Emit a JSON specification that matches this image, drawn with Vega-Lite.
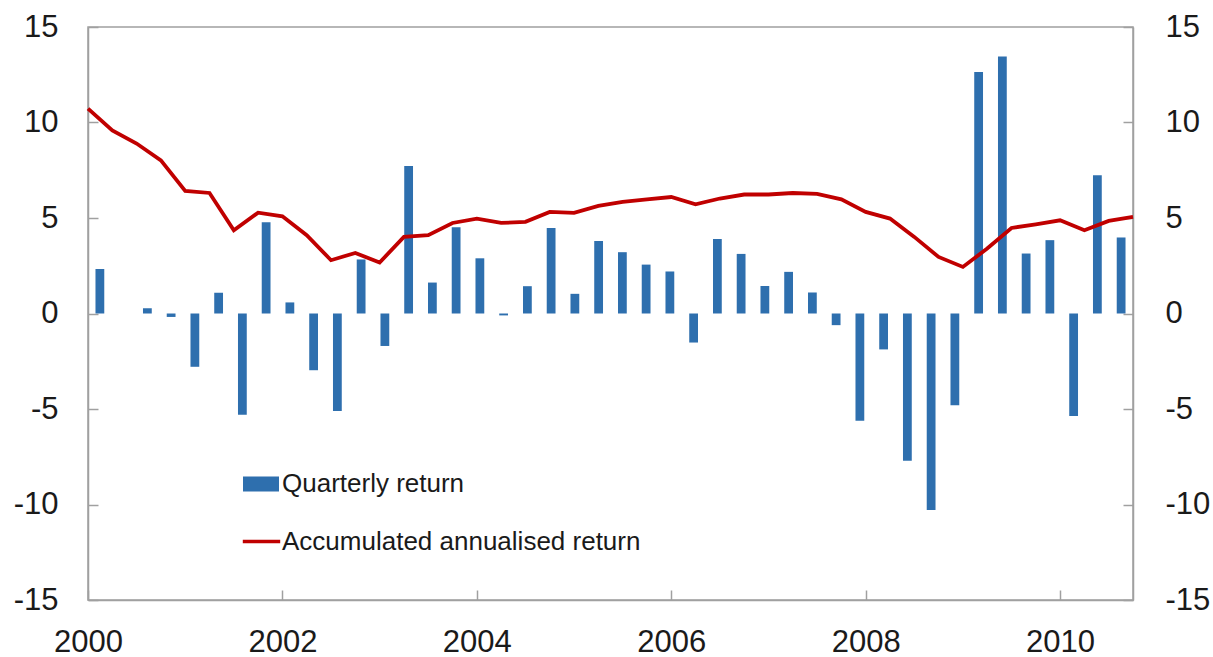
{
  "$schema": "https://vega.github.io/schema/vega-lite/v6.json",
  "width": 1045,
  "height": 573,
  "autosize": {"type": "none"},
  "padding": {"left": 88, "top": 27, "right": 80, "bottom": 57},
  "background": "white",
  "config": {
    "font": "Liberation Sans",
    "view": {"stroke": "#a0a0a0", "strokeWidth": 1.5},
    "axis": {
      "grid": false,
      "domainColor": "#a0a0a0",
      "domainWidth": 1.5,
      "tickColor": "#a0a0a0",
      "tickWidth": 1.5,
      "tickSize": -10,
      "labelFont": "Liberation Sans",
      "labelFontSize": 31,
      "labelColor": "#1a1a1a",
      "title": null
    },
    "legend": {
      "labelFont": "Liberation Sans",
      "labelFontSize": 26,
      "labelColor": "#1a1a1a",
      "labelLimit": 0,
      "padding": 0
    }
  },
  "datasets": {
    "bars": [
      {"q": "2000Q1", "r": 2.33}, {"q": "2000Q2", "r": 0.0}, {"q": "2000Q3", "r": 0.28}, {"q": "2000Q4", "r": -0.18},
      {"q": "2001Q1", "r": -2.79}, {"q": "2001Q2", "r": 1.08}, {"q": "2001Q3", "r": -5.3}, {"q": "2001Q4", "r": 4.78},
      {"q": "2002Q1", "r": 0.58}, {"q": "2002Q2", "r": -2.97}, {"q": "2002Q3", "r": -5.1}, {"q": "2002Q4", "r": 2.83},
      {"q": "2003Q1", "r": -1.7}, {"q": "2003Q2", "r": 7.72}, {"q": "2003Q3", "r": 1.62}, {"q": "2003Q4", "r": 4.52},
      {"q": "2004Q1", "r": 2.89}, {"q": "2004Q2", "r": -0.1}, {"q": "2004Q3", "r": 1.43}, {"q": "2004Q4", "r": 4.48},
      {"q": "2005Q1", "r": 1.03}, {"q": "2005Q2", "r": 3.8}, {"q": "2005Q3", "r": 3.21}, {"q": "2005Q4", "r": 2.56},
      {"q": "2006Q1", "r": 2.2}, {"q": "2006Q2", "r": -1.52}, {"q": "2006Q3", "r": 3.9}, {"q": "2006Q4", "r": 3.12},
      {"q": "2007Q1", "r": 1.44}, {"q": "2007Q2", "r": 2.18}, {"q": "2007Q3", "r": 1.1}, {"q": "2007Q4", "r": -0.61},
      {"q": "2008Q1", "r": -5.62}, {"q": "2008Q2", "r": -1.88}, {"q": "2008Q3", "r": -7.71}, {"q": "2008Q4", "r": -10.29},
      {"q": "2009Q1", "r": -4.81}, {"q": "2009Q2", "r": 12.64}, {"q": "2009Q3", "r": 13.46}, {"q": "2009Q4", "r": 3.14},
      {"q": "2010Q1", "r": 3.84}, {"q": "2010Q2", "r": -5.37}, {"q": "2010Q3", "r": 7.24}, {"q": "2010Q4", "r": 3.98}
    ],
    "line": [
      {"t": 2000.0, "v": 10.73}, {"t": 2000.25, "v": 9.59}, {"t": 2000.5, "v": 8.9}, {"t": 2000.75, "v": 8.02},
      {"t": 2001.0, "v": 6.42}, {"t": 2001.25, "v": 6.31}, {"t": 2001.5, "v": 4.36}, {"t": 2001.75, "v": 5.28},
      {"t": 2002.0, "v": 5.09}, {"t": 2002.25, "v": 4.1}, {"t": 2002.5, "v": 2.79}, {"t": 2002.75, "v": 3.17},
      {"t": 2003.0, "v": 2.67}, {"t": 2003.25, "v": 4.01}, {"t": 2003.5, "v": 4.1}, {"t": 2003.75, "v": 4.74},
      {"t": 2004.0, "v": 4.97}, {"t": 2004.25, "v": 4.74}, {"t": 2004.5, "v": 4.8}, {"t": 2004.75, "v": 5.32},
      {"t": 2005.0, "v": 5.27}, {"t": 2005.25, "v": 5.63}, {"t": 2005.5, "v": 5.84}, {"t": 2005.75, "v": 5.98},
      {"t": 2006.0, "v": 6.1}, {"t": 2006.25, "v": 5.72}, {"t": 2006.5, "v": 6.02}, {"t": 2006.75, "v": 6.23},
      {"t": 2007.0, "v": 6.23}, {"t": 2007.25, "v": 6.31}, {"t": 2007.5, "v": 6.26}, {"t": 2007.75, "v": 5.98},
      {"t": 2008.0, "v": 5.32}, {"t": 2008.25, "v": 4.97}, {"t": 2008.5, "v": 4.01}, {"t": 2008.75, "v": 2.96},
      {"t": 2009.0, "v": 2.44}, {"t": 2009.25, "v": 3.4}, {"t": 2009.5, "v": 4.48}, {"t": 2009.75, "v": 4.67},
      {"t": 2010.0, "v": 4.88}, {"t": 2010.25, "v": 4.36}, {"t": 2010.5, "v": 4.85}, {"t": 2010.75, "v": 5.06}
    ]
  },
  "layer": [
    {
      "data": {"name": "bars"},
      "mark": {"type": "bar"},
      "encoding": {
        "x": {
          "field": "q", "type": "ordinal", "sort": null, "axis": null,
          "scale": {"paddingInner": 0.63, "paddingOuter": 0.315}
        },
        "y": {
          "field": "r", "type": "quantitative",
          "scale": {"domain": [-15, 15], "nice": false, "zero": false},
          "axis": {
            "orient": "left", "values": [-15, -10, -5, 0, 5, 10, 15], "labelPadding": 40,
            "labelExpr": "datum.value < 0 ? '-' + abs(datum.value) : '' + datum.value"
          }
        },
        "fill": {
          "datum": "Quarterly return",
          "scale": {"range": ["#2E6FAE"]},
          "legend": {
            "orient": "none", "legendX": 155, "legendY": 439, "title": null,
            "symbolType": "M-1,-0.42H1V0.42H-1Z", "symbolSize": 1296,
            "symbolStrokeWidth": 0, "labelOffset": 3
          }
        }
      }
    },
    {
      "mark": {"type": "rule", "color": "#a0a0a0", "strokeWidth": 1.5},
      "encoding": {
        "y": {"datum": 0, "type": "quantitative", "axis": null}
      }
    },
    {
      "data": {"name": "line"},
      "mark": {"type": "line", "strokeWidth": 3.8},
      "encoding": {
        "x": {
          "field": "t", "type": "quantitative",
          "scale": {"domain": [2000, 2010.75], "nice": false, "zero": false},
          "axis": {"values": [2000, 2002, 2004, 2006, 2008, 2010], "format": "d", "labelFlush": false, "labelPadding": 37}
        },
        "y": {
          "field": "v", "type": "quantitative",
          "scale": {"domain": [-15, 15], "nice": false, "zero": false},
          "axis": {
            "orient": "right", "values": [-15, -10, -5, 0, 5, 10, 15], "labelPadding": 42,
            "labelExpr": "datum.value < 0 ? '-' + abs(datum.value) : '' + datum.value"
          }
        },
        "stroke": {
          "datum": "Accumulated annualised return",
          "scale": {"range": ["#C00000"]},
          "legend": {
            "orient": "none", "legendX": 153, "legendY": 494, "title": null,
            "symbolType": "stroke", "symbolSize": 1400,
            "symbolStrokeWidth": 3.5, "labelOffset": 0
          }
        }
      }
    }
  ],
  "resolve": {
    "scale": {"x": "independent", "y": "shared"},
    "axis": {"y": "independent"}
  }
}
